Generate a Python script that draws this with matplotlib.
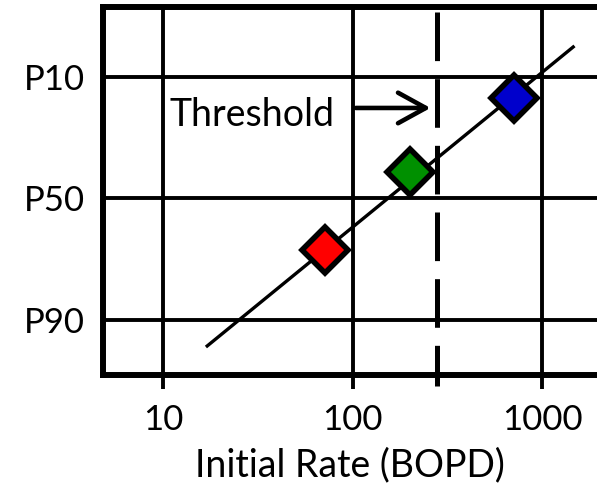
import matplotlib
matplotlib.use("Agg")
import matplotlib.pyplot as plt
import matplotlib.transforms as mtransforms

# y positions: P90 -> 0, P50 -> 1, P10 -> 2
y_ticks = [0, 1, 2]
y_labels = ["P90", "P50", "P10"]
x_ticks = [10, 100, 1000]
x_labels = ["10", "100", "1000"]

# fitted trend line end points
line_x = [17.1, 1460]
line_y = [-0.214, 2.247]

# wells
well_x = [71.6, 200, 707]
well_y = [0.576, 1.218, 1.827]
well_colors = ["#FF0000", "#009000", "#0000CC"]

threshold = 278

plt.rcParams["font.family"] = ["Lato", "DejaVu Sans"]
plt.rcParams["lines.scale_dashes"] = False

fig = plt.figure(figsize=(5.97, 4.92), dpi=100)
ax = fig.add_axes([103 / 597, 117 / 492, 494 / 597, 368 / 492])

ax.set_xscale("log")
ax.set_xlim(4.82, 1950)
ax.set_ylim(-0.453, 2.576)

for yv in y_ticks:
    ax.axhline(yv, color="black", lw=2.8, zorder=1)
for xv in x_ticks:
    ax.axvline(xv, color="black", lw=2.8, zorder=1)

trans = mtransforms.blended_transform_factory(ax.transData, ax.transAxes)
ax.plot([threshold, threshold], [0.986, -0.03], transform=trans, color="black",
        lw=3.6, dashes=(35, 13), clip_on=False, zorder=2)

ax.plot(line_x, line_y, color="black", lw=2.4, zorder=3)
for x, y, c in zip(well_x, well_y, well_colors):
    ax.plot(x, y, marker="D", ms=23, mfc=c, mec="black", mew=4, zorder=4)

ax.text(29.5, 1.69, "Threshold", fontsize=27, ha="center", va="center", zorder=5)
ax.annotate("", xy=(258, 1.745), xytext=(104, 1.745),
            arrowprops=dict(arrowstyle="->, head_length=1.0, head_width=0.55",
                            lw=3.3, color="black", mutation_scale=20, shrinkA=0, shrinkB=0))

ax.set_xticks(x_ticks)
ax.set_xticklabels(x_labels)
ax.minorticks_off()
ax.set_yticks(y_ticks)
ax.set_yticklabels(y_labels)
ax.tick_params(axis="x", direction="out", length=10, width=2.8, labelsize=25, pad=11)
ax.tick_params(axis="y", length=0, labelsize=25, pad=13)
ax.set_xlabel("Initial Rate (BOPD)", fontsize=27, labelpad=8)

for side in ["left", "top", "bottom"]:
    ax.spines[side].set_linewidth(4.3)
ax.spines["right"].set_visible(False)

fig.savefig("out.png", dpi=100)
